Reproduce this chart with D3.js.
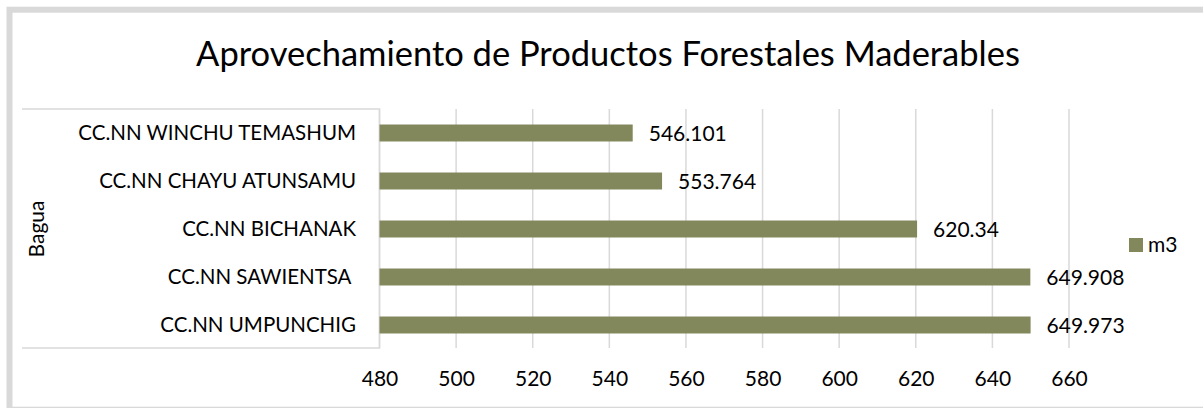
<!DOCTYPE html>
<html>
<head>
<meta charset="utf-8">
<script src="https://cdn.jsdelivr.net/npm/d3@7"></script>
<style>
  body { margin: 0; background: #fff; }
  text { font-family: Lato, "Open Sans", sans-serif; fill: #000; }
</style>
</head>
<body>
<div id="canvas"></div>
<script>
const categories = ["CC.NN WINCHU TEMASHUM", "CC.NN CHAYU ATUNSAMU", "CC.NN BICHANAK", "CC.NN SAWIENTSA ", "CC.NN UMPUNCHIG"];
const values = [546.101, 553.764, 620.34, 649.908, 649.973];
const valueLabels = ["546.101", "553.764", "620.34", "649.908", "649.973"];
const ticks = [480, 500, 520, 540, 560, 580, 600, 620, 640, 660];
const groupLabel = "Bagua";
const seriesName = "m3";
const title = "Aprovechamiento de Productos Forestales Maderables";

const width = 1203, height = 408;
const barColor = "#83885c";
const gridColor = "#d9d9d9";

const svg = d3.select("#canvas").append("svg")
  .attr("width", width)
  .attr("height", height);

// marco exterior (solo se ven arriba, a la izquierda y una franja abajo)
svg.append("rect")
  .attr("x", 9.5).attr("y", 9.7)
  .attr("width", width + 30).attr("height", 400)
  .attr("fill", "none")
  .attr("stroke", gridColor)
  .attr("stroke-width", 6);

svg.append("text")
  .attr("x", 608).attr("y", 66)
  .attr("text-anchor", "middle")
  .style("font-size", "34.5px")
  .text(title);

const x = d3.scaleLinear().domain([480, 660]).range([379.5, 1069]);
const y = d3.scaleBand().domain(categories).range([109, 349])
  .paddingInner(0.646).paddingOuter(0.323);

const g = svg.append("g");

// líneas de la cuadrícula
g.selectAll("line.grid").data(ticks).enter().append("line")
  .attr("class", "grid")
  .attr("x1", d => x(d)).attr("x2", d => x(d))
  .attr("y1", 109).attr("y2", 348)
  .attr("stroke", gridColor).attr("stroke-width", 1.5);

// caja del eje de categorías
g.append("path")
  .attr("d", `M22,109H${x(480)}V348H22`)
  .attr("fill", "none")
  .attr("stroke", gridColor).attr("stroke-width", 1.5);

const xAxis = d3.axisBottom(x).tickValues(ticks).tickSize(0).tickPadding(0);
const ax = g.append("g")
  .attr("transform", "translate(0,371)")
  .call(xAxis);
ax.select(".domain").remove();
ax.selectAll("text")
  .style("font-size", "21px")
  .attr("fill", "#000")
  .attr("dy", "0.71em");

g.selectAll("rect.bar").data(values).enter().append("rect")
  .attr("class", "bar")
  .attr("x", x(480))
  .attr("y", (d, i) => y(categories[i]))
  .attr("width", d => x(d) - x(480))
  .attr("height", y.bandwidth())
  .attr("fill", barColor);

g.selectAll("text.val").data(values).enter().append("text")
  .attr("class", "val")
  .attr("x", d => x(d) + 16)
  .attr("y", (d, i) => y(categories[i]) + y.bandwidth() / 2)
  .attr("dy", "0.36em")
  .style("font-size", "21px")
  .text((d, i) => valueLabels[i]);

g.selectAll("text.cat").data(categories).enter().append("text")
  .attr("class", "cat")
  .attr("x", 356)
  .attr("y", d => y(d) + y.bandwidth() / 2)
  .attr("dy", "0.36em")
  .attr("text-anchor", "end")
  .style("font-size", "20.5px")
  .style("white-space", "pre")
  .text(d => d);

g.append("text")
  .attr("transform", `translate(44,${(y.range()[0] + y.range()[1]) / 2}) rotate(-90)`)
  .attr("text-anchor", "middle")
  .style("font-size", "21px")
  .text(groupLabel);

// leyenda
svg.append("rect")
  .attr("x", 1129).attr("y", 238)
  .attr("width", 14).attr("height", 14)
  .attr("fill", barColor);
svg.append("text")
  .attr("x", 1148).attr("y", 252)
  .style("font-size", "21px")
  .text(seriesName);
</script>
</body>
</html>
